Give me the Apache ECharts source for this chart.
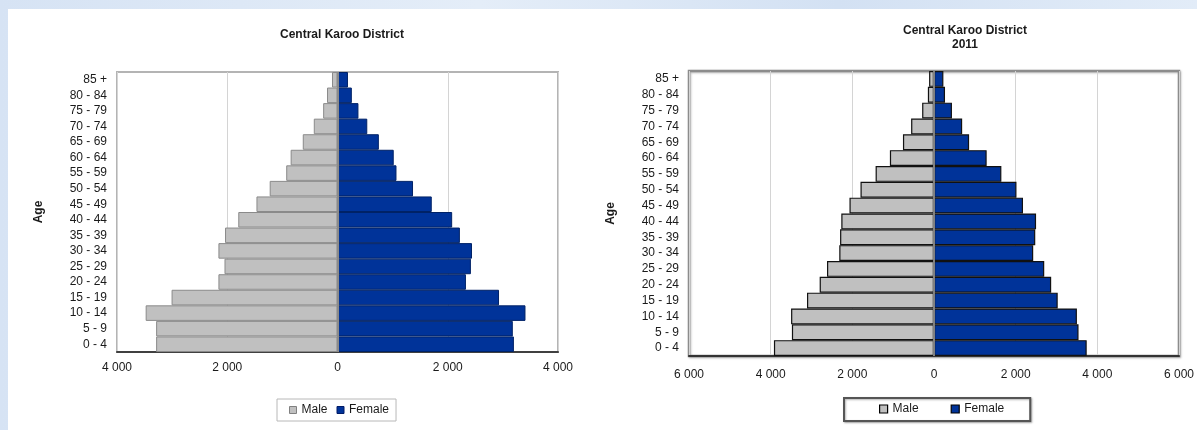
<!DOCTYPE html>
<html>
<head>
<meta charset="utf-8">
<script src="https://cdn.jsdelivr.net/npm/echarts@6/dist/echarts.min.js"></script>
<style>
  html, body { margin: 0; padding: 0; }
  body { width: 1197px; height: 430px; background: linear-gradient(90deg, #d6e3f4, #e4edf8 40%, #d3e1f3 70%, #e2ecf8); position: relative; overflow: hidden; }
  #panel { position: absolute; left: 8px; top: 9px; right: 0; bottom: 0; background: #ffffff; }
  #chart { position: absolute; left: 0; top: 0; width: 1197px; height: 430px; }
</style>
</head>
<body>
<div id="panel"></div>
<div id="chart"></div>
<script>
// ---- data ----
const ageGroups = ['0 - 4','5 - 9','10 - 14','15 - 19','20 - 24','25 - 29','30 - 34','35 - 39','40 - 44','45 - 49','50 - 54','55 - 59','60 - 64','65 - 69','70 - 74','75 - 79','80 - 84','85 +'];
const leftMale   = [3290, 3290, 3480, 3010, 2160, 2050, 2160, 2040, 1800, 1470, 1230, 930, 850, 630, 430, 260, 190, 100];
const leftFemale = [3200, 3180, 3410, 2930, 2330, 2420, 2440, 2220, 2080, 1710, 1370, 1070, 1020, 750, 540, 380, 260, 190];
const rightMale   = [3920, 3480, 3500, 3110, 2800, 2620, 2320, 2300, 2270, 2070, 1800, 1430, 1080, 760, 560, 290, 150, 120];
const rightFemale = [3740, 3540, 3500, 3030, 2870, 2700, 2430, 2480, 2500, 2180, 2020, 1650, 1290, 860, 690, 440, 270, 230];
const leftTicks = { min: -4000, max: 4000, interval: 2000 };
const rightTicks = { min: -6000, max: 6000, interval: 2000 };
const leftTitle = 'Central Karoo District';
const rightTitle = 'Central Karoo District\n2011';
const seriesNames = ['Male', 'Female'];
const axisName = 'Age';

// ---- styling ----
const FONT = "'Liberation Sans Narrow', 'Arial Narrow', 'Liberation Sans', Arial, sans-serif";
const FONT2 = "'Liberation Sans', Arial, sans-serif";
const MALE = '#c0c0c0';
const FEMALE = '#003399';
const fmt = v => String(Math.abs(v)).replace(/\B(?=(\d{3})+(?!\d))/g, ' ');
const neg = arr => arr.map(v => -v);

const chart = echarts.init(document.getElementById('chart'), null, { renderer: 'canvas' });

function xAxisFor(idx, ticks, font, margin, lineColor) {
  return {
    type: 'value', gridIndex: idx, min: ticks.min, max: ticks.max, interval: ticks.interval,
    axisLine: { show: true, onZero: false, lineStyle: { color: lineColor, width: 2 } },
    axisTick: { show: false },
    axisLabel: { formatter: fmt, color: '#1a1a1a', fontFamily: font, fontSize: 12, margin: margin },
    splitLine: { show: true, lineStyle: { color: '#d4d4d4', width: 1 } }
  };
}
function yAxisFor(idx, font) {
  return {
    type: 'category', gridIndex: idx, data: ageGroups,
    axisLine: { show: false }, axisTick: { show: false },
    axisLabel: { color: '#1a1a1a', fontFamily: font, fontSize: 12, margin: 10, interval: 0 },
    name: axisName, nameLocation: 'middle', nameGap: 72, nameRotate: 90,
    nameTextStyle: { fontFamily: FONT2, fontWeight: 'bold', fontSize: 12, color: '#1a1a1a' }
  };
}
const zeroLine = (color) => ({
  silent: true, symbol: ['none', 'none'], label: { show: false },
  lineStyle: { color: color, width: 2, type: 'solid' },
  data: [{ xAxis: 0 }]
});

const option = {
  animation: false,
  textStyle: { fontFamily: FONT },
  title: [
    { text: leftTitle, left: 337, top: 24, textAlign: 'center',
      textStyle: { fontFamily: FONT, fontWeight: 'bold', fontSize: 12, color: '#1a1a1a' } },
    { text: rightTitle, left: 960, top: 19, textAlign: 'center',
      textStyle: { fontFamily: FONT, fontWeight: 'bold', fontSize: 12, color: '#1a1a1a', lineHeight: 14 } }
  ],
  grid: [
    { left: 117, top: 72, width: 441, height: 280, show: true, backgroundColor: '#ffffff',
      borderColor: '#b4b4b4', borderWidth: 2 },
    { left: 689, top: 71, width: 491, height: 285, show: true, backgroundColor: '#ffffff',
      borderColor: '#8c8c8c', borderWidth: 2.5, shadowColor: 'rgba(0,0,0,0.25)', shadowBlur: 2, shadowOffsetX: 1, shadowOffsetY: 1 }
  ],
  xAxis: [
    xAxisFor(0, leftTicks, FONT, 10, '#404040'),
    xAxisFor(1, rightTicks, FONT2, 13, '#333333')
  ],
  yAxis: [ yAxisFor(0, FONT), yAxisFor(1, FONT) ],
  legend: [
    { left: 277, top: 399, orient: 'horizontal', icon: 'rect', itemWidth: 7, itemHeight: 7, itemGap: 9,
      padding: [5, 7, 5, 12], borderColor: '#b8b8b8', borderWidth: 1,
      textStyle: { fontFamily: FONT, fontSize: 12, color: '#1a1a1a' },
      data: [
        { name: seriesNames[0], itemStyle: { color: MALE, borderColor: '#808080', borderWidth: 1 } },
        { name: seriesNames[1], itemStyle: { color: FEMALE, borderColor: '#001a66', borderWidth: 1 } }
      ] },
    { left: 844, top: 398, orient: 'horizontal', icon: 'rect', itemWidth: 8, itemHeight: 8, itemGap: 32,
      padding: [5, 26, 6, 35], borderColor: '#555555', borderWidth: 2,
      shadowColor: 'rgba(0,0,0,0.3)', shadowBlur: 2, shadowOffsetX: 1, shadowOffsetY: 1, backgroundColor: '#fff',
      textStyle: { fontFamily: FONT2, fontSize: 12, color: '#1a1a1a' },
      data: [
        { name: seriesNames[0], itemStyle: { color: MALE, borderColor: '#000', borderWidth: 1.2 } },
        { name: seriesNames[1], itemStyle: { color: FEMALE, borderColor: '#000', borderWidth: 1.2 } }
      ] }
  ],
  series: [
    { name: seriesNames[0], type: 'bar', xAxisIndex: 0, yAxisIndex: 0, data: neg(leftMale),
      barCategoryGap: '0%', barGap: '-100%',
      itemStyle: { color: MALE, borderColor: '#8a8a8a', borderWidth: 1 },
      markLine: zeroLine('#8a8a8a') },
    { name: seriesNames[1], type: 'bar', xAxisIndex: 0, yAxisIndex: 0, data: leftFemale,
      barCategoryGap: '0%', barGap: '-100%',
      itemStyle: { color: FEMALE, borderColor: '#002266', borderWidth: 1 } },
    { name: seriesNames[0], type: 'bar', xAxisIndex: 1, yAxisIndex: 1, data: neg(rightMale),
      barCategoryGap: '0%', barGap: '-100%',
      itemStyle: { color: MALE, borderColor: '#111', borderWidth: 1.2 },
      markLine: zeroLine('#808080') },
    { name: seriesNames[1], type: 'bar', xAxisIndex: 1, yAxisIndex: 1, data: rightFemale,
      barCategoryGap: '0%', barGap: '-100%',
      itemStyle: { color: FEMALE, borderColor: '#111', borderWidth: 1.2 } }
  ]
};
chart.setOption(option);
</script>
</body>
</html>
